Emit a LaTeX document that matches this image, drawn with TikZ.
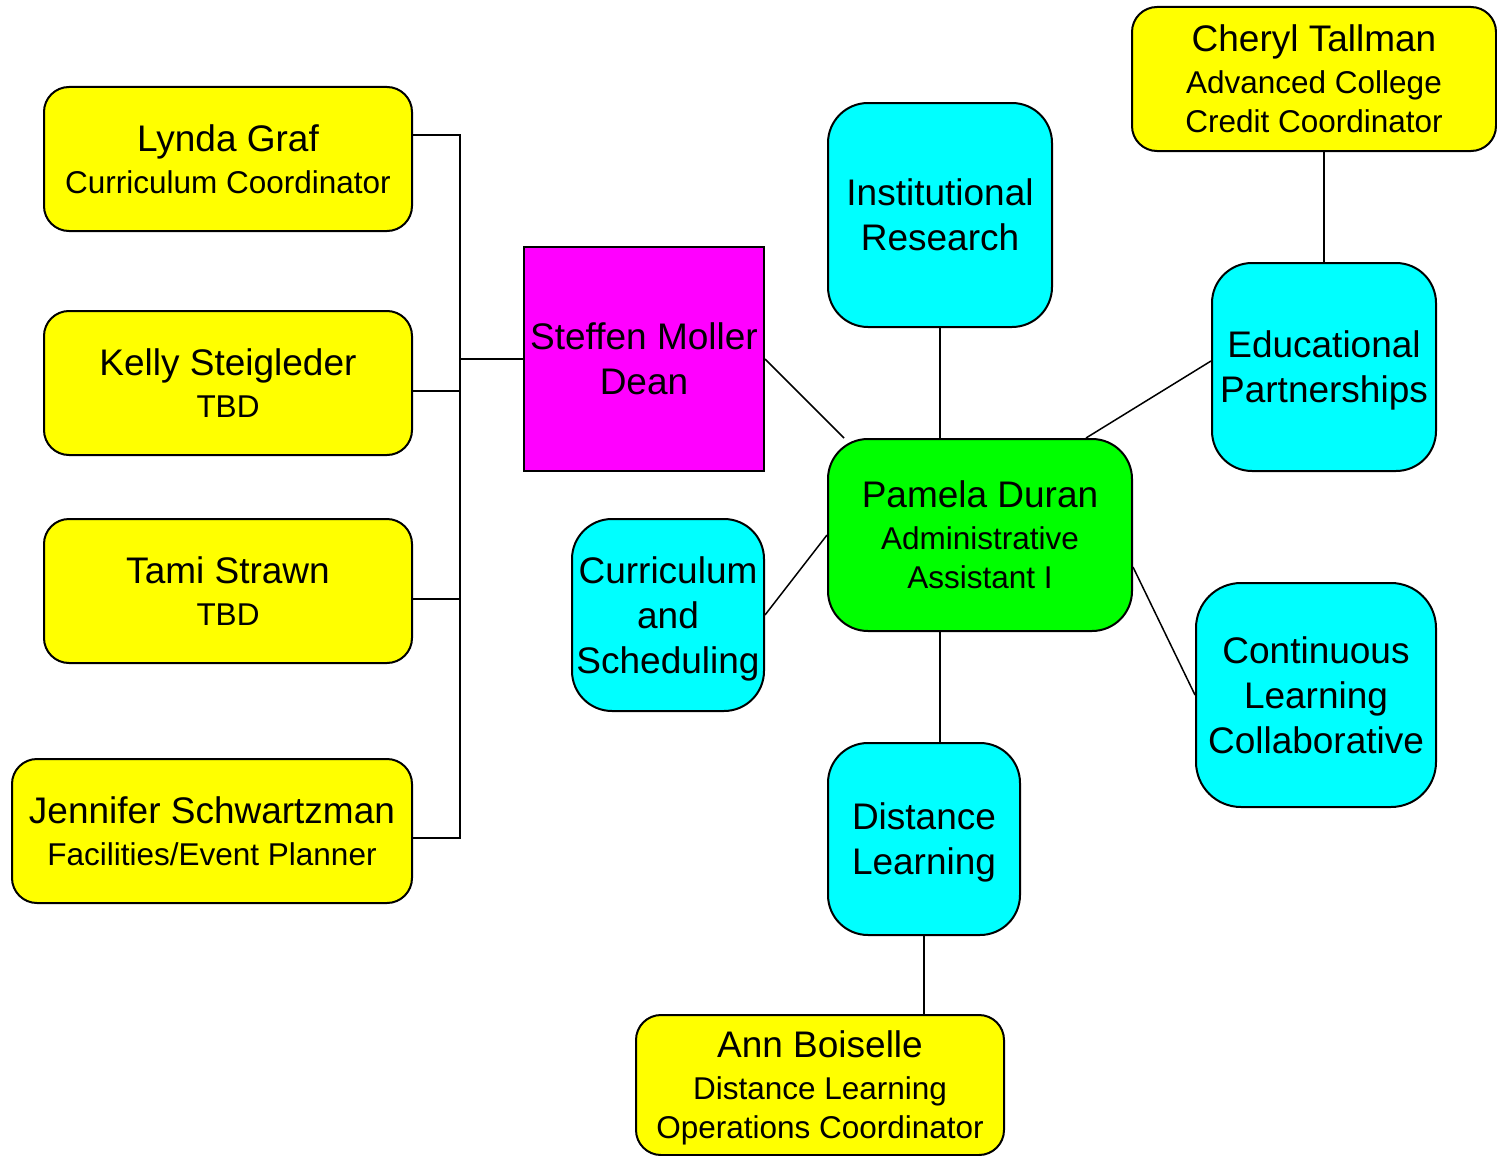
\documentclass[tikz,border=0pt]{standalone}
\usepackage{fontspec}
\setmainfont{Liberation Sans}
\newcommand{\namefont}{\fontsize{37}{45}\selectfont}
\newcommand{\rolefont}{\fontsize{31.5}{39}\selectfont}
\definecolor{staffyellow}{RGB}{255,255,0}
\definecolor{unitcyan}{RGB}{0,255,255}
\definecolor{deanmagenta}{RGB}{255,0,255}
\definecolor{assistgreen}{RGB}{0,255,0}

\begin{document}
\begin{tikzpicture}[x=1pt,y=-1pt,
  box/.style={draw=black, line width=2pt, inner sep=0pt, align=center, text=black, text depth=0pt},
  person/.style={box, fill=staffyellow, rounded corners=25pt, font=\rolefont},
  unit/.style={box, fill=unitcyan, rounded corners=40pt, font=\namefont},
  link/.style={draw=black, line width=1.5pt}]
\useasboundingbox (0,0) rectangle (1497,1156);
\fill[white] (0,0) rectangle (1497,1156);

% left column of staff
\node[person, minimum width=368pt, minimum height=144pt] (lynda) at (228,159)
  {{\namefont Lynda Graf}\\[3pt]Curriculum Coordinator};
\node[person, minimum width=368pt, minimum height=144pt] (kelly) at (228,383)
  {{\namefont Kelly Steigleder}\\[3pt]TBD};
\node[person, minimum width=368pt, minimum height=144pt] (tami) at (228,591)
  {{\namefont Tami Strawn}\\[3pt]TBD};
\node[person, minimum width=400pt, minimum height=144pt] (jen) at (212,831)
  {{\namefont Jennifer Schwartzman}\\[3pt]Facilities/Event Planner};

% dean
\node[box, fill=deanmagenta, font=\namefont, minimum width=240pt, minimum height=224pt] (dean) at (644,359)
  {Steffen Moller\\Dean};

% administrative assistant
\node[box, fill=assistgreen, rounded corners=40pt, font=\rolefont, minimum width=304pt, minimum height=192pt] (pam) at (980,535)
  {{\namefont Pamela Duran}\\[3pt]Administrative\\Assistant I};

% units
\node[unit, minimum width=224pt, minimum height=224pt] (ir) at (940,215)
  {Institutional\\Research};
\node[unit, minimum width=224pt, minimum height=208pt] (edu) at (1324,367)
  {Educational\\Partnerships};
\node[unit, minimum width=192pt, minimum height=192pt] (cur) at (668,615)
  {Curriculum\\and\\Scheduling};
\node[unit, rounded corners=45pt, minimum width=240pt, minimum height=224pt] (cont) at (1316,695)
  {Continuous\\Learning\\Collaborative};
\node[unit, minimum width=192pt, minimum height=192pt] (dist) at (924,839)
  {Distance\\Learning};

% coordinators under units
\node[person, text depth=-6pt, minimum width=364pt, minimum height=144pt] (cheryl) at (1314,79)
  {{\namefont Cheryl Tallman}\\[3pt]Advanced College\\Credit Coordinator};
\node[person, text depth=-4pt, minimum width=368pt, minimum height=140pt] (ann) at (820,1085)
  {{\namefont Ann Boiselle}\\[3pt]Distance Learning\\Operations Coordinator};

% bracket joining the left column to the dean
\coordinate (busend) at (460,838);
\draw[link] ([yshift=24pt]lynda.east) -| (busend) -- ([yshift=-7pt]jen.east);
\draw[link] ([yshift=-8pt]kelly.east) -| (busend);
\draw[link] ([yshift=-8pt]tami.east) -| (busend);
\draw[link] (dean.west) -| (busend);

% spokes around the administrative assistant
\draw[link] (dean.east) -- ([xshift=17pt]pam.north west);
\draw[link] (ir.south) -- (ir.south |- pam.north);
\draw[link] ([xshift=-47pt]pam.north east) -- ([yshift=6pt]edu.west);
\draw[link] (pam.west) -- (cur.east);
\draw[link] ([yshift=-32pt]pam.east) -- (cont.west);
\draw[link] (ir.south |- pam.south) -- (ir.south |- dist.north);
\draw[link] (dist.south) -- (dist.south |- ann.north);
\draw[link] (edu.north) -- (edu.north |- cheryl.south);
\end{tikzpicture}
\end{document}
